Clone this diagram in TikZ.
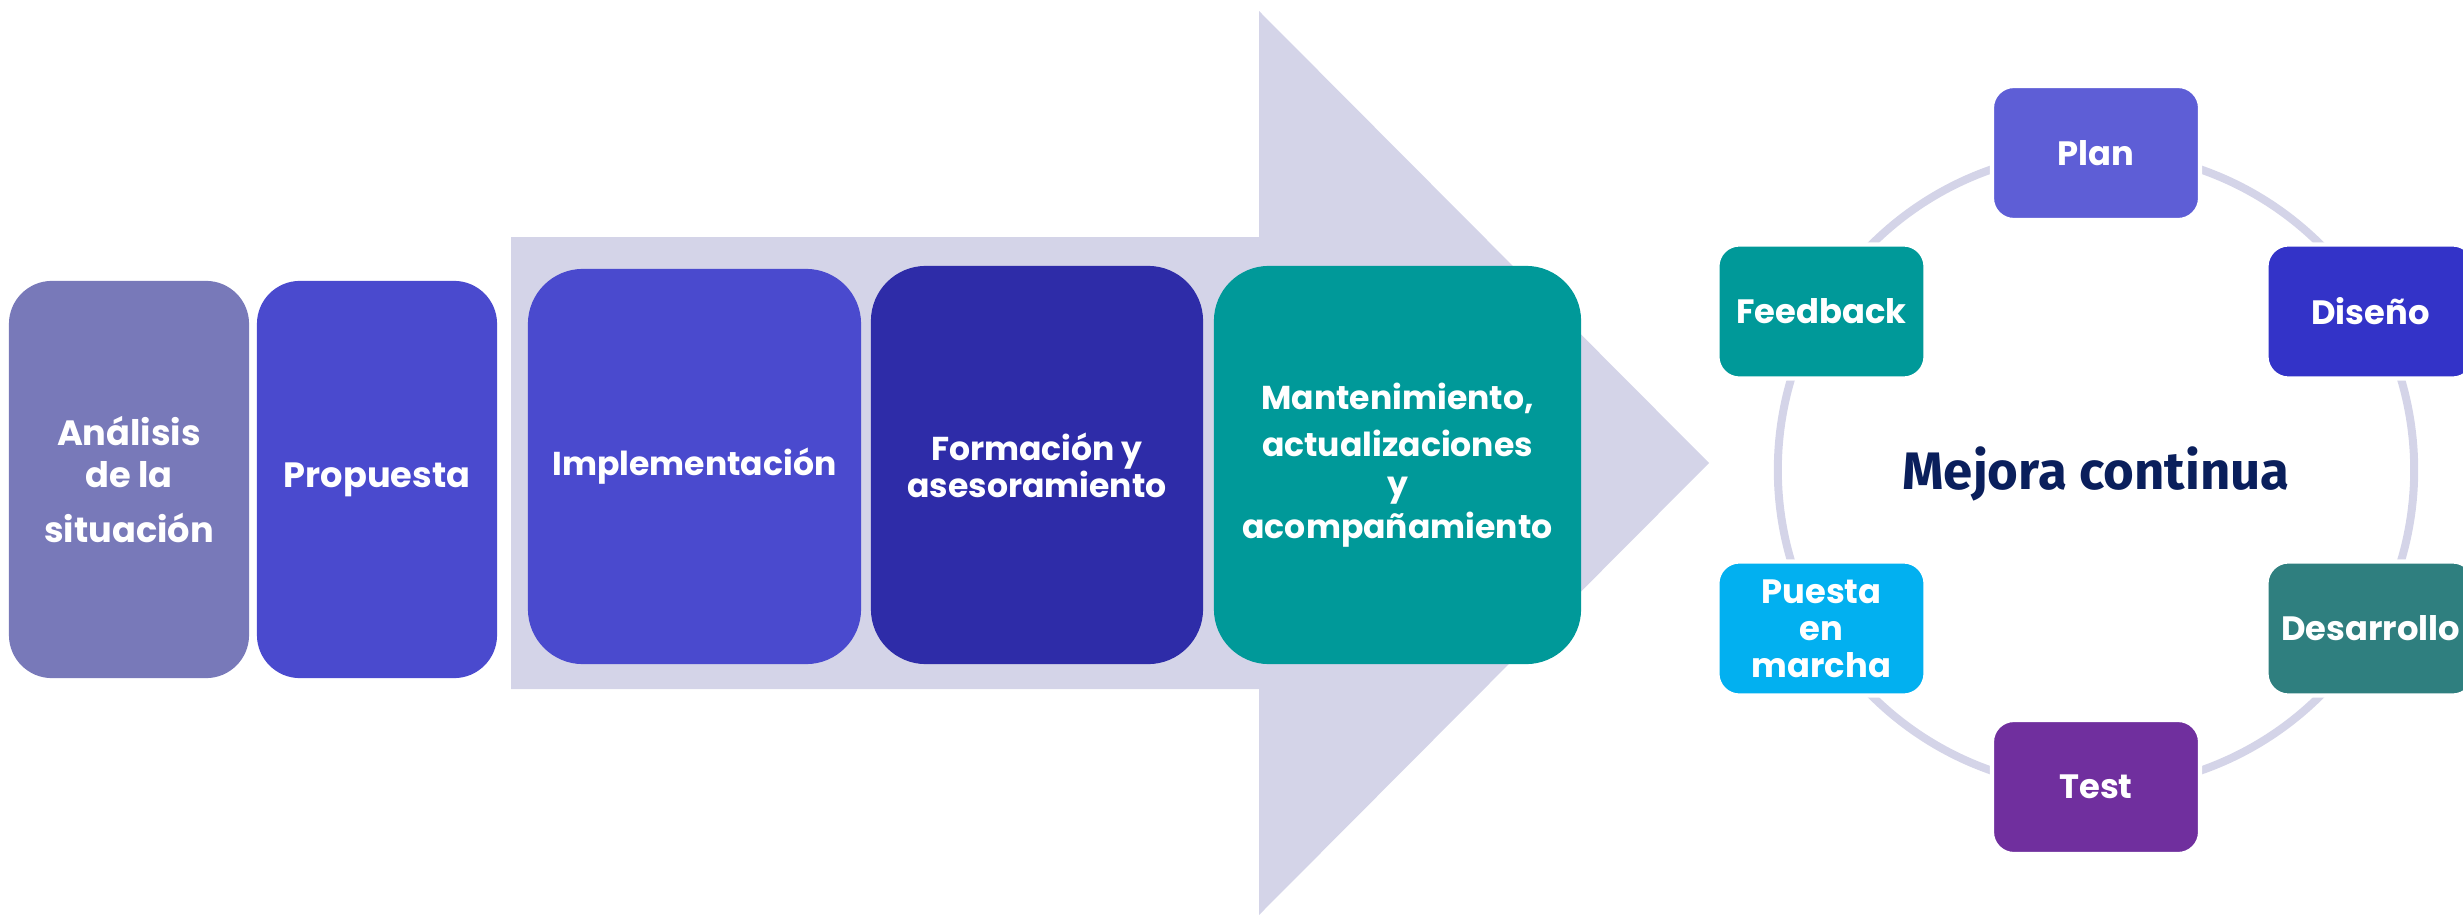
\documentclass[tikz,border=0pt]{standalone}
\usepackage{fontspec}
\usepackage{tikz}
\setmainfont{Poppins}
\newfontfamily\titlefont{Fira Sans}

\begin{document}
\begin{tikzpicture}[x=0.01cm,y=0.01cm,
  stage/.style={rounded corners=0.55cm,text=white,align=center,inner sep=0pt,
    font=\bfseries\fontsize{9.4}{10.5}\selectfont},
  cyclebox/.style={rounded corners=0.22cm,draw=white,line width=1.2pt,text=white,align=center,
    inner sep=0pt,minimum width=2.08cm,minimum height=1.34cm,
    font=\bfseries\fontsize{9.6}{10.5}\selectfont}]
% Define colours
\definecolor{analisis}{RGB}{120,121,185}
\definecolor{propuesta}{RGB}{74,74,206}
\definecolor{formacion}{RGB}{46,44,168}
\definecolor{mant}{RGB}{0,153,153}
\definecolor{band}{RGB}{212,212,232}
\definecolor{plan}{RGB}{94,94,214}
\definecolor{diseno}{RGB}{51,51,200}
\definecolor{desarrollo}{RGB}{47,127,127}
\definecolor{test}{RGB}{112,47,158}
\definecolor{puesta}{RGB}{2,176,240}
\definecolor{mejora}{RGB}{10,31,92}

\useasboundingbox (0,0) rectangle (2463,914);

% Big arrow behind the stages
\fill[band] (511,225) -- (1259,225) -- (1259,-1) -- (1709,451) -- (1259,903) -- (1259,677) -- (511,677) -- cycle;

% Stages
\node (ana) [stage,fill=analisis,rounded corners=0.43cm,minimum width=2.40cm,minimum height=3.97cm,
  font=\bfseries\fontsize{10}{10.5}\selectfont] at (129,434.5) {Análisis\\[1.5pt]de la\\[4.9pt]situación};
\node (pro) [stage,fill=propuesta,rounded corners=0.43cm,minimum width=2.40cm,minimum height=3.97cm,
  font=\bfseries\fontsize{10}{10.5}\selectfont] at (377,434.5) {Propuesta};
\node (imp) [stage,fill=propuesta,minimum width=3.33cm,minimum height=3.95cm] at (694.5,447.5) {Implementación};
\node (for) [stage,fill=formacion,minimum width=3.32cm,minimum height=3.98cm] at (1037,449) {Formación y\\asesoramiento};
\node (man) [stage,fill=mant,minimum width=3.67cm,minimum height=3.98cm] at (1397.5,449) {Mantenimiento,\\[3pt]actualizaciones\\[0.5pt]y\\[1.7pt]acompañamiento};

% Cycle
\coordinate (c) at (2096,444);
\draw[band,line width=0.08cm] (c) circle (3.18cm);
\node (mej) [anchor=base,text=mejora,font=\titlefont\bfseries\fontsize{15}{18}\selectfont] at (2096,425) {Mejora continua};

\node (plan) [cyclebox,fill=plan] at ([shift={(90:317)}]c) {Plan};
\node (dis) [cyclebox,fill=diseno] at ([shift={(30:317)}]c) {Diseño};
\node (des) [cyclebox,fill=desarrollo] at ([shift={(-30:317)}]c) {Desarrollo};
\node (test) [cyclebox,fill=test] at ([shift={(-90:317)}]c) {Test};
\node (pue) [cyclebox,fill=puesta] at ([shift={(210:317)}]c) {Puesta\\en\\marcha};
\node (feed) [cyclebox,fill=mant] at ([shift={(150:317)}]c) {Feedback};
\end{tikzpicture}
\end{document}
